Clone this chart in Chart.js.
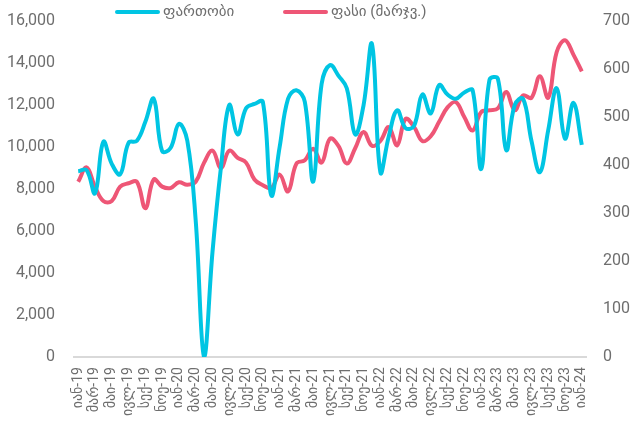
<!DOCTYPE html>
<html>
<head>
<meta charset="utf-8">
<script src="https://cdn.jsdelivr.net/npm/chart.js@4"></script>
<style>
  body { margin: 0; background: #fff; }
  #wrap { width: 635px; height: 429px; }
</style>
</head>
<body>
<div id="wrap"><canvas id="area_price"></canvas></div>
<script>
// monthly, Jan-19 .. Jan-24
const months = ['იან', 'თებ', 'მარ', 'აპრ', 'მაი', 'ივნ', 'ივლ', 'აგვ', 'სექ', 'ოქტ', 'ნოე', 'დეკ'];
const years = ['19', '20', '21', '22', '23', '24'];
const labels = [];
years.forEach(y => months.forEach(m => labels.push(m + '-' + y)));
labels.length = 61;

const area = [
  8850, 8900, 7800, 10250, 9200, 8700, 10200, 10300, 11200, 12300, 9800, 9950,
  11100, 10300, 6500, 0, 5000, 9000, 12000, 10600, 11850, 12050, 12150, 7700,
  10000, 12300, 12700, 12150, 8350, 13000, 13900, 13400, 12800, 10600, 12000, 14900,
  8800, 10500, 11750, 10900, 11000, 12500, 11600, 12950, 12500, 12300, 12600, 12700,
  8950, 13200, 13250, 9850, 12000, 12300, 10300, 8800, 10800, 12800, 10400, 12100,
  10100
];
const price = [
  365, 395, 355, 325, 325, 355, 362, 365, 310, 370, 355, 352,
  364, 359, 365, 405, 430, 394, 430, 415, 405, 370, 358, 352,
  380, 345, 403, 410, 434, 405, 455, 440, 403, 435, 469, 440,
  450, 479, 441, 496, 480, 450, 460, 490, 520, 531, 500, 472,
  510, 514, 518, 552, 514, 545, 540, 585, 540, 635, 660, 630,
  595
];

const blue = '#00c5e3';
const red = '#ee5676';
const grey = '#6e6e6e';
const font_family = 'Roboto, "DejaVu Sans", sans-serif';

// legend drawn by hand: the built-in one can't space items like the original
const legend_x = [115, 283];
const topLegend = {
  id: 'topLegend',
  afterDraw(chart) {
    const c = chart.ctx;
    c.save();
    c.font = '15px ' + font_family;
    c.textBaseline = 'middle';
    c.lineCap = 'round';
    chart.data.datasets.forEach((ds, i) => {
      const x = legend_x[i];
      c.strokeStyle = ds.borderColor;
      c.lineWidth = 4;
      c.beginPath();
      c.moveTo(x + 2, 12);
      c.lineTo(x + 43, 12);
      c.stroke();
      c.fillStyle = grey;
      c.fillText(ds.label, x + 48, 12);
    });
    c.restore();
  }
};

// fixed axis widths / top padding so the plot area sits where the original's does
function fixAxis(width) {
  return s => {
    s.width = width;
    s.paddingTop = 21;
    s.paddingBottom = 10;
  };
}

let ctx = document.getElementById('area_price').getContext('2d');
let chart = new Chart(ctx, {
  type: 'line',
  data: {
    labels: labels,
    datasets: [
      {
        label: 'ფართობი',
        data: area,
        yAxisID: 'y',
        borderColor: blue,
        backgroundColor: blue,
        borderWidth: 4,
        pointRadius: 0,
        tension: 0.4,
        fill: false
      },
      {
        label: 'ფასი (მარჯვ.)',
        data: price,
        yAxisID: 'y1',
        borderColor: red,
        backgroundColor: red,
        borderWidth: 4,
        pointRadius: 0,
        tension: 0.4,
        fill: false
      }
    ]
  },
  plugins: [topLegend],
  options: {
    responsive: true,
    maintainAspectRatio: false,
    animation: false,
    layout: { padding: { left: 5, right: 5, top: 0, bottom: 3 } },
    plugins: {
      legend: { display: false },
      tooltip: { enabled: false }
    },
    scales: {
      x: {
        offset: true,
        grid: { display: false, drawTicks: false },
        border: { display: true, color: '#d9d9d9', width: 2 },
        ticks: {
          autoSkip: false,
          maxRotation: 90,
          minRotation: 90,
          padding: 10,
          color: grey,
          font: { family: font_family, size: 14 },
          callback: function(v, i) { return i % 2 === 0 ? this.getLabelForValue(v) : ''; }
        }
      },
      y: {
        position: 'left',
        min: 0,
        max: 16000,
        grid: { display: false, drawTicks: false },
        border: { display: false },
        afterFit: fixAxis(69),
        ticks: {
          stepSize: 2000,
          padding: 19,
          color: grey,
          font: { family: font_family, size: 16 }
        }
      },
      y1: {
        position: 'right',
        min: 0,
        max: 700,
        grid: { display: false, drawTicks: false },
        border: { display: false },
        afterFit: fixAxis(44),
        ticks: {
          stepSize: 100,
          padding: 17,
          color: grey,
          font: { family: font_family, size: 16 }
        }
      }
    }
  }
});
</script>
</body>
</html>
